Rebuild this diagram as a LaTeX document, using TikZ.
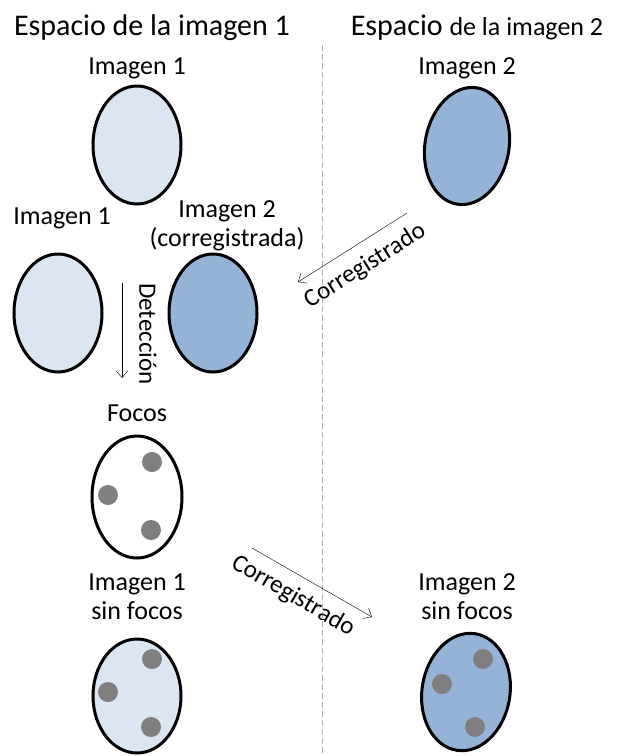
\documentclass[tikz,border=0pt]{standalone}
\usepackage{fontspec}
\setmainfont{Carlito}
\usetikzlibrary{shapes.geometric,arrows.meta}

\definecolor{clara}{HTML}{DCE6F2}
\definecolor{oscura}{HTML}{95B3D7}
\definecolor{foco}{HTML}{7F7F7F}

\begin{document}
\begin{tikzpicture}[x=1pt,y=-1pt,>={Straight Barb[length=7pt,width=12pt]},
		img/.style={ellipse,draw,line width=3pt,minimum width=88pt,minimum height=118pt,inner sep=0pt},
		dot/.style={circle,fill=foco,minimum size=20pt,inner sep=0pt},
		lbl/.style={font=\fontsize{26}{29}\selectfont,align=center}]
		\useasboundingbox (0,0) rectangle (622,756);
		% titles and the line between both spaces
		\node (t1) at (152,28) {\fontsize{30}{34}\selectfont Espacio de la imagen 1};
		\node (t2) at (477,28) {\fontsize{30}{34}\selectfont Espacio \fontsize{26}{30}\selectfont de la imagen 2};
		\coordinate (s1) at (322,45);
		\coordinate (s2) at (322,756);
		\draw [gray!60, line width=.8pt, dash pattern=on 6pt off 3pt] (s1) -- (s2);
		% first row
		\node[lbl] (l1) at (137,68) {Imagen 1};
		\node[img, fill=clara] (a1) at (137,145) {};
		\node[lbl] (l2) at (467,68) {Imagen 2};
		\node[img, fill=oscura, rotate=-10, minimum width=84pt] (a2) at (467,146) {};
		% second row
		\node[lbl] (l3) at (62,218) {Imagen 1};
		\node[img, fill=clara] (b1) at (58,313) {};
		\node[lbl] (l4) at (227,226) {Imagen 2\\(corregistrada)};
		\node[img, fill=oscura] (b2) at (213,313) {};
		\coordinate (c1) at (407,213);
		\coordinate (c2) at (298,282);
		\draw [->] (c1) -- (c2);
		\node[lbl, font=\fontsize{25}{28}\selectfont, rotate=32] (r1) at (365,266) {Corregistrado};
		\coordinate (d1) at (122,283);
		\coordinate (d2) at (122,378);
		\draw [->] (d1) -- (d2);
		\node[lbl, font=\fontsize{25}{28}\selectfont, rotate=-90] (r2) at (148,334) {Detección};
		% focos
		\node[lbl] (l5) at (137,413) {Focos};
		\node[img, fill=white, minimum width=90pt, minimum height=122pt] (f) at (137,497) {};
		\node[dot] (f1) at (152,462) {};
		\node[dot] (f2) at (108,495) {};
		\node[dot] (f3) at (151,530) {};
		% images without focos
		\node[lbl] (l6) at (137,597) {Imagen 1\\sin focos};
		\node[img, fill=clara, minimum height=114pt] (g1) at (137,696) {};
		\node[dot] (g11) at (152,659) {};
		\node[dot] (g12) at (108,692) {};
		\node[dot] (g13) at (151,727) {};
		\node[lbl] (l7) at (467,597) {Imagen 2\\sin focos};
		\node[img, fill=oscura, rotate=-9, minimum height=118pt] (g2) at (466,692) {};
		\node[dot] (g21) at (483,659) {};
		\node[dot] (g22) at (442,684) {};
		\node[dot] (g23) at (475,727) {};
		\coordinate (e1) at (252,548);
		\coordinate (e2) at (372,617);
		\draw [->] (e1) -- (e2);
		\node[lbl, font=\fontsize{25}{28}\selectfont, rotate=-30] (r3) at (293,596) {Corregistrado};
\end{tikzpicture}
\end{document}
